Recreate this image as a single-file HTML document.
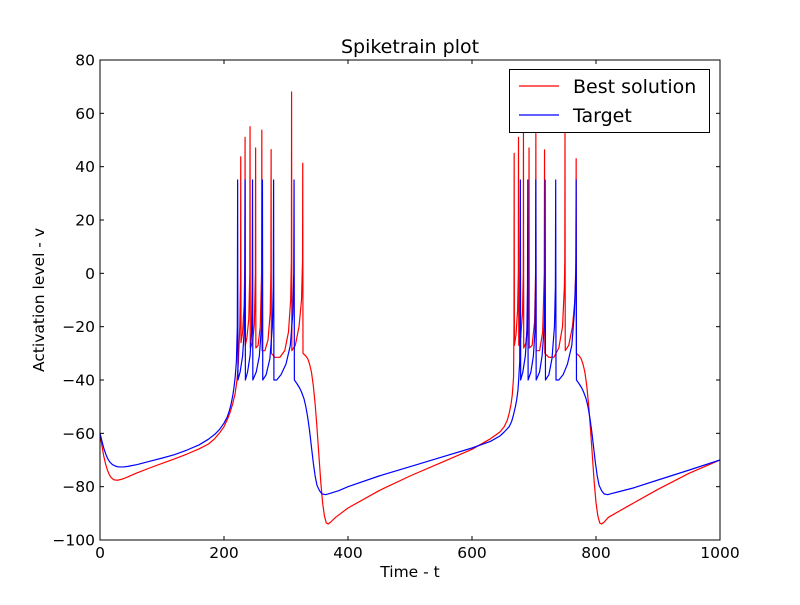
<!DOCTYPE html>
<html><head><meta charset="utf-8"><style>
body{margin:0;background:#fff;}
svg text{font-family:"DejaVu Sans","Liberation Sans",sans-serif;}
</style></head><body>
<svg id="chart" width="800" height="600" xmlns="http://www.w3.org/2000/svg">
<rect width="800" height="600" fill="#fff"/>
<g id="plot"></g>
</svg>
<script>
const xTicks=[0,200,400,600,800,1000];
const yTicks=[-100,-80,-60,-40,-20,0,20,40,60,80];
const blueT=[0,3,6,9,12,16,20,25,30,38,45,60,80,100,120,140,160,175,185,193,200,205,208,211,214,216,218,220,221.5,222,222.5,226,230,232.5,233.5,234,234.5,238,242,244.5,245.5,246,246.5,252,257,260.5,261.5,262,262.5,268,274,278,279.5,280,280.5,285,292,300,307,311,312.5,313,313.5,318,322,325,329,332,335,338,341,344,347,350,354,358,364,370,385,400,450,500,550,600,630,645,652,660,664,667,670,672,674,675,677,678,678.5,682,686,688.5,689.5,690,690.5,695,699,701.5,702.5,703,703.5,709,713,716.5,717.5,718,718.5,724,729,733,734.5,735,735.5,740,747,754,761,765,767.5,768,768.5,773,777,780,784,787,790,793,796,799,802,805,809,813,819,825,835,860,900,950,1000];
const blueV=[-60,-62.8,-65.5,-67.6,-69.3,-70.8,-71.7,-72.3,-72.6,-72.6,-72.4,-71.7,-70.5,-69.3,-68,-66.3,-64.3,-62.2,-60.4,-58.5,-56.2,-54,-52,-49.5,-46,-43,-39,-33,-20,35,-40,-37,-31,-22,-5,35,-40,-37,-31,-22,-5,35,-40,-37,-31,-20,-5,35,-40,-38,-32,-20,-5,35,-40,-40,-38,-34,-27,-15,0,35,-40,-41.5,-43,-44.5,-47,-50,-54,-59,-65,-71,-76,-79.5,-81.5,-82.7,-83,-82.6,-81.5,-80,-76,-72.5,-69,-65.5,-63,-61,-59.5,-57.5,-55.5,-53,-50,-47.5,-44,-41,-33,35,-40,-37,-31,-22,-5,35,-40,-37,-31,-22,-5,35,-40,-37,-31,-20,-5,35,-40,-38,-32,-20,-5,35,-40,-40,-38,-34,-27,-15,0,35,-40,-41.5,-43,-44.5,-47,-50,-54,-59,-65,-71,-76,-79.5,-81.5,-82.7,-83,-82.6,-82,-80.5,-77.5,-73.8,-70];
const redT=[0,3,6,9,12,15,18,22,28,34,40,60,80,100,120,140,160,175,185,193,200,206,210,214,218,221,223,225.5,226.7,227,227.4,230,232.5,233.7,234,234.4,237,240,241.6,242,242.4,246,249,250.6,251,251.4,255,258.5,260.6,261,261.4,266,271,274.5,275.6,276,276.4,282,290,298,304,307.5,308.7,309,309.4,315,321,325,326.7,327,327.4,332,335,338,341,344,347,350,353,356,359,362,365,368,372,380,400,450,500,550,600,630,645,652,657,660,663,665,667,667.7,668,668.4,671,673.5,674.7,675,675.4,678.5,681.5,682.7,683,683.4,687,690.5,691.6,692,692.4,697,701,702.6,703,703.4,709,714,716.6,717,717.4,724,732,740,746,749,749.7,750,750.4,756,762,766,767.7,768,768.4,773,776,779,782,785,788,791,794,797,800,803,806,809,813,820,850,900,950,1000];
const redV=[-60,-64.5,-68.5,-71.5,-73.8,-75.5,-76.6,-77.4,-77.6,-77.3,-76.8,-74.8,-73,-71.3,-69.6,-67.8,-65.8,-64,-62,-59.8,-57.5,-54.5,-52,-49,-45,-40,-34,-20,0,43.7,-26,-22,-12,5,51,-27,-24,-17,0,55,-28,-26,-19,0,47,-28,-27,-20,0,53.7,-29,-29,-25,-15,0,46.4,-30,-31.5,-31.5,-29,-22,-10,5,68,-29,-27,-20,-10,5,41.3,-30,-31,-32,-34,-37,-42,-49,-58,-68,-78,-86,-91,-93.6,-94,-93.3,-91.5,-88,-81.5,-76,-71,-66,-62,-59.5,-57.5,-55,-52.5,-49,-45.5,-39,-20,45,-27,-23,-14,0,51,-27,-24,-15,0,53,-28,-26,-17,0,47,-28,-27,-18,0,52.5,-29,-29,-22,0,46.3,-30,-31.5,-31.5,-28,-20,-5,5,53,-29,-27,-20,-10,5,43,-30,-31,-32,-34,-37,-42,-49,-58,-68,-78,-86,-91,-93.6,-94,-93.3,-91.5,-87.5,-81,-75,-70];

const L=100,R=720,T=60,B=540;
const sx=t=>L+(t-0)/(1000-0)*(R-L);
const sy=v=>T+(80-v)/(80-(-100))*(B-T);
const NS='http://www.w3.org/2000/svg';
const g=document.getElementById('plot');
function mk(tag,attrs,parent){const e=document.createElementNS(NS,tag);for(const k in attrs)e.setAttribute(k,attrs[k]);(parent||g).appendChild(e);return e;}

const cl=mk('clipPath',{id:'clip'});mk('rect',{x:L,y:T,width:R-L,height:B-T},cl);
function line(ts,vs,color,name){
  let d='';ts.forEach((t,i)=>{d+=(i?'L':'M')+sx(t).toFixed(2)+','+sy(vs[i]).toFixed(2);});
  const p=mk('path',{d:d,fill:'none',stroke:color,'stroke-width':1.2,'stroke-linejoin':'round','clip-path':'url(#clip)'});
  
  
}
line(redT,redV,'#ff0000','best-solution-line');
line(blueT,blueV,'#0000ff','target-line');

const frame=mk('rect',{x:L,y:T,width:R-L,height:B-T,fill:'none',stroke:'#000','stroke-width':1});



xTicks.forEach(t=>{
  const x=sx(t);
  mk('line',{x1:x,y1:B,x2:x,y2:B-4,stroke:'#000'});
  mk('line',{x1:x,y1:T,x2:x,y2:T+4,stroke:'#000'});
  const tx=mk('text',{x:x,y:B+18,'text-anchor':'middle','font-size':15.5});
  tx.textContent=t;
  
  
});
yTicks.forEach(v=>{
  const y=sy(v);
  mk('line',{x1:L,y1:y,x2:L+4,y2:y,stroke:'#000'});
  mk('line',{x1:R,y1:y,x2:R-4,y2:y,stroke:'#000'});
  const tx=mk('text',{x:L-5,y:y+5.5,'text-anchor':'end','font-size':15.5});
  tx.textContent=(v<0?'\u2212'+(-v):v);
  
  
});

const title=mk('text',{x:410,y:53,'text-anchor':'middle','font-size':19});
title.textContent='Spiketrain plot';


const xl=mk('text',{x:410,y:577,'text-anchor':'middle','font-size':15.5});
xl.textContent='Time - t';


const yl=mk('text',{x:0,y:0,'text-anchor':'middle','font-size':15.5,transform:'translate(44,300) rotate(-90)'});
yl.textContent='Activation level - v';



const lg=mk('g',{});


mk('rect',{x:509.5,y:69.5,width:200,height:63,fill:'#fff',stroke:'#000'},lg);
mk('line',{x1:519,y1:86,x2:559,y2:86,stroke:'#ff0000','stroke-width':1.2},lg);
mk('line',{x1:519,y1:115,x2:559,y2:115,stroke:'#0000ff','stroke-width':1.2},lg);
const l1=mk('text',{x:573,y:93,'font-size':19},lg);l1.textContent='Best solution';


const l2=mk('text',{x:573,y:122,'font-size':19},lg);l2.textContent='Target';


</script>
</body></html>
